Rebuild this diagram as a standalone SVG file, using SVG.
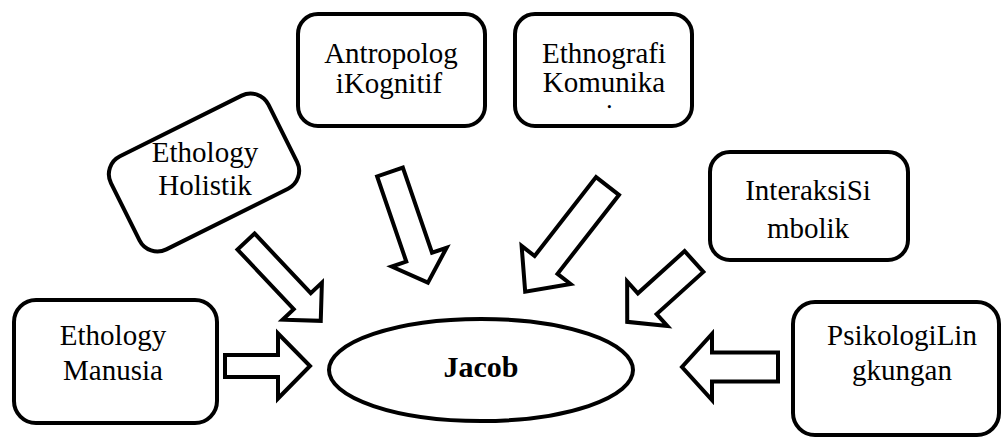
<svg xmlns="http://www.w3.org/2000/svg" width="1003" height="437" viewBox="0 0 1003 437">
<style>
.box{fill:#fff;stroke:#000;stroke-width:4}
.arrow{fill:#fff;stroke:#000;stroke-width:4;stroke-linejoin:miter;stroke-miterlimit:10}
text{font-family:'Liberation Serif','Times New Roman','DejaVu Serif',serif;font-size:29px;fill:#000;text-anchor:middle}
.b{font-weight:bold;font-size:30px}
</style>
<defs>
<clipPath id="clipEthno"><rect x="517" y="16" width="173" height="94"/></clipPath>
</defs>
<rect width="1003" height="437" fill="#fff"/>
<g id="connectors">
<path class="arrow" transform="translate(246,241.5) rotate(46.7)" d="M0,-11.7 L82,-11.7 L82,-27 L109,0 L82,27 L82,11.7 L0,11.7 Z"/>
<path class="arrow" transform="translate(390,172) rotate(71.1)" d="M0,-13.6 L90,-13.6 L90,-29 L117,0 L90,29 L90,13.6 L0,13.6 Z"/>
<path class="arrow" transform="translate(607.5,186) rotate(127.9)" d="M0,-14.5 L100,-14.5 L100,-31 L134,0 L100,31 L100,14.5 L0,14.5 Z"/>
<path class="arrow" transform="translate(694,261.5) rotate(137.9)" d="M0,-14 L63,-14 L63,-30 L90,0 L63,30 L63,14 L0,14 Z"/>
<path class="arrow" transform="translate(225,366)" d="M0,-11 L53,-11 L53,-32.5 L85,0 L53,32.5 L53,11 L0,11 Z"/>
<path class="arrow" transform="translate(778,367) rotate(180)" d="M0,-14.5 L66,-14.5 L66,-33 L96,0 L66,33 L66,14.5 L0,14.5 Z"/>
</g>
<g id="antropologi">
<rect class="box" x="298" y="14" width="187" height="112" rx="20"/>
<text font-family="Liberation Serif, serif" x="391" y="63">Antropolog</text>
<text font-family="Liberation Serif, serif" x="389" y="93">iKognitif</text>
</g>
<g id="ethnografi">
<rect class="box" x="515" y="14" width="177" height="112" rx="20"/>
<text font-family="Liberation Serif, serif" x="604" y="63">Ethnografi</text>
<text font-family="Liberation Serif, serif" x="604" y="92">Komunika</text>
<text font-family="Liberation Serif, serif" x="604" y="124" clip-path="url(#clipEthno)">si</text>
</g>
<g id="holistik">
<rect class="box" x="-88" y="-52" width="176" height="104" rx="20" transform="translate(204,172.5) rotate(-26.5)"/>
<text font-family="Liberation Serif, serif" x="205" y="162">Ethology</text>
<text font-family="Liberation Serif, serif" x="205" y="195">Holistik</text>
</g>
<g id="interaksi">
<rect class="box" x="710" y="152" width="198" height="108" rx="20"/>
<text font-family="Liberation Serif, serif" x="808" y="200">InteraksiSi</text>
<text font-family="Liberation Serif, serif" x="808" y="238">mbolik</text>
</g>
<g id="manusia">
<rect class="box" x="14" y="300" width="203" height="123" rx="22"/>
<text font-family="Liberation Serif, serif" x="113" y="345">Ethology</text>
<text font-family="Liberation Serif, serif" x="113" y="380">Manusia</text>
</g>
<g id="psikologi">
<rect class="box" x="793" y="302" width="206" height="133" rx="22"/>
<text font-family="Liberation Serif, serif" x="902" y="345">PsikologiLin</text>
<text font-family="Liberation Serif, serif" x="902" y="380">gkungan</text>
</g>
<g id="jacob">
<ellipse class="box" cx="481" cy="370" rx="152" ry="51"/>
<text class="b" font-family="Liberation Serif, serif" x="481" y="377">Jacob</text>
</g>
</svg>
